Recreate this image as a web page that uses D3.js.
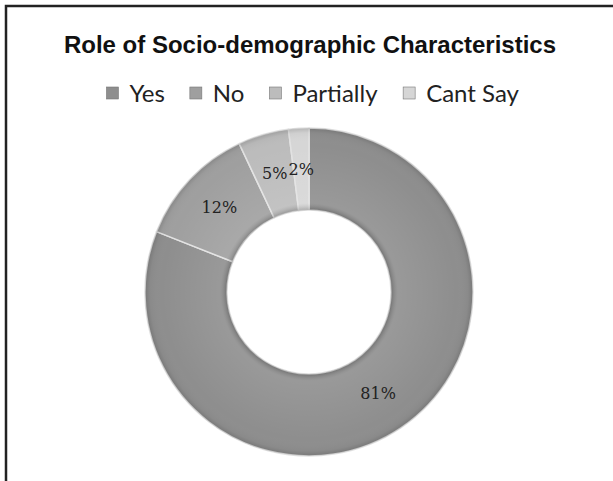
<html>
<meta charset="utf-8">
<style>
body { margin: 0; background: #fff; }
.title { font: bold 24px "Liberation Sans", Arial, sans-serif; fill: #111; }
.legend text { font: 24px Lato, "Noto Sans", sans-serif; fill: #222; }
.lbl { font: 16px "DejaVu Serif", "Liberation Serif", serif; fill: #222; }
</style>
<body>
<script src="https://cdn.jsdelivr.net/npm/d3@7"></script>
<script>

// chart data
var categories = ['Yes', 'No', 'Partially', 'Cant Say'];
var values = [81, 12, 5, 2];
var colors = ['#8e8e8e', '#9f9f9f', '#bcbcbc', '#d6d6d6'];

var width = 613, height = 481,
    cx = 309, cy = 292,
    outer = 164, inner = 82;

var svg = d3.select('body').append('svg')
    .attr('width', width)
    .attr('height', height);

// frame (only top and left show in the crop)
svg.append('path')
    .attr('d', 'M6,' + height + ' L6,6 L' + width + ',6')
    .attr('fill', 'none')
    .attr('stroke', '#222')
    .attr('stroke-width', 2.5);

svg.append('text')
    .attr('class', 'title')
    .attr('x', 310).attr('y', 53)
    .attr('text-anchor', 'middle')
    .text('Role of Socio-demographic Characteristics');

/* legend, laid out left to right and centred */
var gap = 25;
var leg = svg.append('g').attr('class', 'legend');
var items = leg.selectAll('g').data(categories).enter().append('g');
items.append('rect')
    .attr('width', 12).attr('height', 12)
    .attr('y', 87)
    .attr('fill', function(d, i) { return colors[i]; })
    .attr('stroke', '#777').attr('stroke-width', 0.6);
items.append('text')
    .attr('x', 23).attr('y', 102)
    .text(function(d) { return d; });

var xpos = 0;
items.each(function() {
    var w = this.getBBox().width;
    d3.select(this).attr('transform', 'translate(' + xpos + ',0)');
    xpos += w + gap;
});
xpos -= gap;
leg.attr('transform', 'translate(' + (313 - xpos / 2) + ',0)');

/* bevel gradient, centred on the ring's own origin */
var defs = svg.append('defs');
var grad = defs.append('radialGradient')
    .attr('id', 'bevel')
    .attr('gradientUnits', 'userSpaceOnUse')
    .attr('cx', 0).attr('cy', 0).attr('r', outer);
grad.append('stop').attr('offset', inner / outer).attr('stop-color', '#000').attr('stop-opacity', 0.2);
grad.append('stop').attr('offset', (inner + 7) / outer).attr('stop-color', '#fff').attr('stop-opacity', 0.1);
grad.append('stop').attr('offset', 0.9).attr('stop-color', '#fff').attr('stop-opacity', 0);
grad.append('stop').attr('offset', 0.97).attr('stop-color', '#000').attr('stop-opacity', 0.03);
grad.append('stop').attr('offset', 1).attr('stop-color', '#000').attr('stop-opacity', 0.15);

var pie = d3.pie().sort(null).value(function(d) { return d; });
var arc = d3.arc().innerRadius(inner).outerRadius(outer);
var arcs = pie(values);

var g = svg.append('g').attr('transform', 'translate(' + cx + ',' + cy + ')');

g.selectAll('path.slice').data(arcs).enter().append('path')
    .attr('class', 'slice')
    .attr('d', arc)
    .attr('fill', function(d, i) { return colors[i]; })
    .attr('stroke', '#e2e2e2')
    .attr('stroke-width', 1.5);

// shading over the whole ring
g.append('path')
    .attr('d', arc({startAngle: 0, endAngle: 2 * Math.PI}))
    .attr('fill', 'url(#bevel)');

g.selectAll('text.lbl').data(arcs).enter().append('text')
    .attr('class', 'lbl')
    .attr('transform', function(d) { return 'translate(' + arc.centroid(d) + ')'; })
    .attr('text-anchor', 'middle')
    .attr('dy', '0.35em')
    .text(function(d) { return d.data + '%'; });

</script>
</body>
</html>
